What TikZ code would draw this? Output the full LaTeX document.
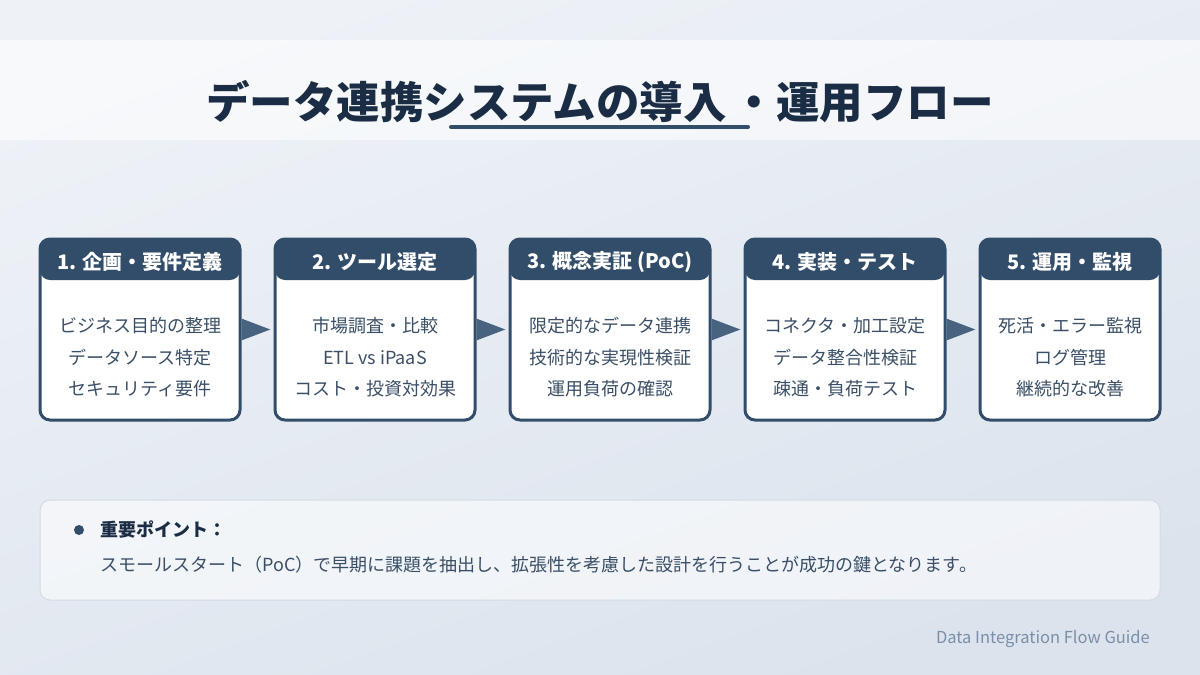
\documentclass[tikz,border=0pt]{standalone}
\usepackage{fontspec}
\setmainfont{Noto Sans CJK JP}
\usetikzlibrary{arrows.meta}
\definecolor{bgA}{HTML}{EEF2F7}
\definecolor{bgB}{HTML}{DCE3ED}
\definecolor{hdr}{HTML}{324D6A}
\definecolor{arr}{HTML}{48637F}
\definecolor{titlec}{HTML}{1B2D45}
\definecolor{bodyc}{HTML}{3A4F67}
\definecolor{keyborder}{HTML}{D3DBE5}
\definecolor{footc}{HTML}{7A8FA8}
\tikzset{
  stepbox/.style={draw=hdr, line width=3pt, fill=white, rounded corners=10pt,
    minimum height=181pt, inner sep=0pt,
    path picture={\fill[hdr] (path picture bounding box.north west) rectangle ([yshift=-41pt]path picture bounding box.north east);}},
  hdrtext/.style={text=white, font=\fontsize{20}{24}\selectfont\bfseries, inner sep=0pt},
  bodytext/.style={text=bodyc, font=\fontsize{18}{22}\selectfont, inner sep=0pt},
  flowarrow/.style={draw=arr, line width=3pt, -{Triangle[length=29pt,width=21pt]}, shorten >=3pt},
}
\begin{document}
\begin{tikzpicture}[x=1pt,y=-1pt]
\useasboundingbox (0,0) rectangle (1200,675);
\shade[top color=bgA, bottom color=bgB, shading angle=20] (0,0) rectangle (1200,675);
% title band
\fill[white, opacity=0.55] (0,40) rectangle (1200,140);
\node[text=titlec, font=\fontsize{43.5}{50}\selectfont\bfseries, inner sep=0pt] (title) at (600,102) {データ連携システムの導入\hspace{6pt}・運用フロー};
\draw[hdr, line width=4pt, line cap=round] (451,127) -- (748,127);
% boxes
\newcommand{\mkstep}[8]{%
  \node[stepbox, minimum width=#3pt] (#1) at (#2,329.5) {};
  \node[hdrtext] (#1h) at (#2,262) {#4};
  \node[bodytext] (#1a) at (#2,326) {#5};
  \node[bodytext] (#1b) at (#2,357.5) {#6};
  \node[bodytext] (#1c) at (#2,389) {#7};
}
\mkstep{b1}{140}{200}{1. 企画・要件定義}{ビジネス目的の整理}{データソース特定}{セキュリティ要件}{}
\mkstep{b2}{375}{200}{2. ツール選定}{市場調査・比較}{ETL vs iPaaS}{コスト・投資対効果}{}
\mkstep{b3}{610}{200}{3. 概念実証 (PoC)}{限定的なデータ連携}{技術的な実現性検証}{運用負荷の確認}{}
\mkstep{b4}{845}{200}{4. 実装・テスト}{コネクタ・加工設定}{データ整合性検証}{疎通・負荷テスト}{}
\mkstep{b5}{1070}{180}{5. 運用・監視}{死活・エラー監視}{ログ管理}{継続的な改善}{}
\draw[flowarrow] (b1.east) -- (b2.west);
\draw[flowarrow] (b2.east) -- (b3.west);
\draw[flowarrow] (b3.east) -- (b4.west);
\draw[flowarrow] (b4.east) -- (b5.west);
% key point
\node[draw=keyborder, line width=1pt, fill=white, fill opacity=0.55, draw opacity=1, rounded corners=10pt,
  minimum width=1120pt, minimum height=100pt, inner sep=0pt] (key) at (600,550) {};
\node[circle, fill=hdr, minimum size=10pt, inner sep=0pt] (dot) at (79,530) {};
\node[anchor=west, text=titlec, font=\fontsize{18}{22}\selectfont\bfseries, inner sep=0pt] (keyt) at (100,530) {重要ポイント：};
\node[anchor=west, text=bodyc, font=\fontsize{18}{22}\selectfont, inner sep=0pt] (keyb) at (100,565) {スモールスタート（PoC）で早期に課題を抽出し、拡張性を考慮した設計を行うことが成功の鍵となります。};
% footer
\node[anchor=east, text=footc, font=\fontsize{16.5}{19}\selectfont, inner sep=0pt] (foot) at (1150,639) {Data Integration Flow Guide};
\end{tikzpicture}
\end{document}
